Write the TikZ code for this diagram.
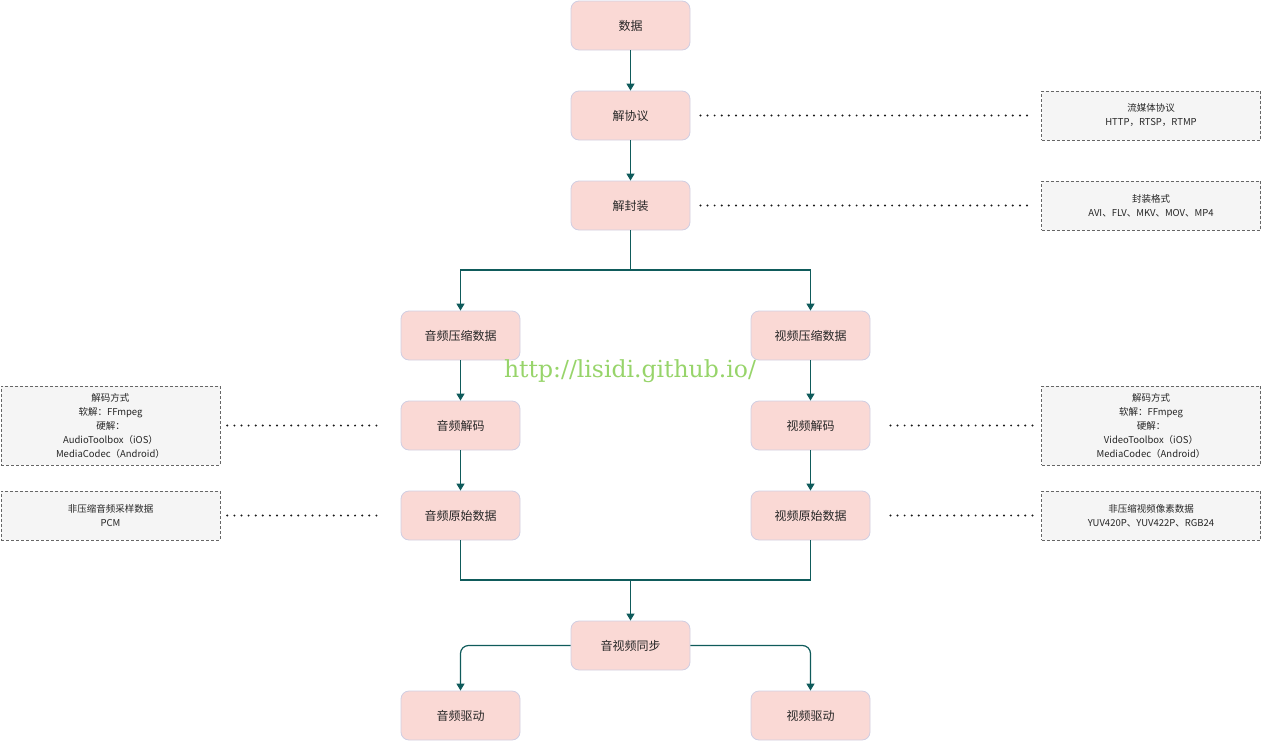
\documentclass[tikz,border=0pt]{standalone}
\usepackage{fontspec}
\setmainfont{Noto Sans CJK SC}
\newfontfamily\markfont{DejaVu Serif}
\usetikzlibrary{arrows.meta}
\definecolor{boxfill}{HTML}{FAD9D5}
\definecolor{boxline}{HTML}{D0CEE2}
\definecolor{notefill}{HTML}{F5F5F5}
\definecolor{noteline}{HTML}{666666}
\definecolor{linkcol}{HTML}{0F5B5B}
\definecolor{markcol}{HTML}{97D46A}

\begin{document}
\begin{tikzpicture}[x=1pt,y=-1pt,
    stage/.style={draw=boxline, fill=boxfill, rounded corners=8pt, line width=0.8pt,
        minimum width=119pt, minimum height=49pt, inner sep=0pt,
        text=black!85, font=\fontsize{12}{14}\selectfont},
    note/.style={draw=noteline, fill=notefill, dash pattern=on 3pt off 2pt, line width=0.6pt,
        minimum width=219pt, minimum height=49pt, inner sep=0pt, align=center,
        text=black!85, font=\fontsize{9.5}{14}\selectfont},
    link/.style={draw=linkcol, line width=1.2pt},
    arrow/.style={link, -{Triangle[width=8pt,length=7pt]}},
    dotline/.style={draw=black!90, line width=2.2pt, line cap=round, dash pattern=on 0pt off 7.1pt}]
        \useasboundingbox (0,0) rectangle (1262,742);
        % main chain
        \node[stage] (data) at (630.5,25.5) {数据};
        \node[stage] (proto) at (630.5,115.5) {解协议};
        \node[stage] (demux) at (630.5,205.5) {解封装};
        \node[stage] (acomp) at (460.5,335.5) {音频压缩数据};
        \node[stage] (vcomp) at (810.5,335.5) {视频压缩数据};
        \node[stage] (adec) at (460.5,425.5) {音频解码};
        \node[stage] (vdec) at (810.5,425.5) {视频解码};
        \node[stage] (araw) at (460.5,515.5) {音频原始数据};
        \node[stage] (vraw) at (810.5,515.5) {视频原始数据};
        \node[stage] (sync) at (630.5,645.5) {音视频同步};
        \node[stage] (adrv) at (460.5,715.5) {音频驱动};
        \node[stage] (vdrv) at (810.5,715.5) {视频驱动};
        % notes
        \node[note] (protonote) at (1151,115.5) {流媒体协议\\HTTP，RTSP，RTMP};
        \node[note] (demuxnote) at (1151,205.5) {封装格式\\AVI、FLV、MKV、MOV、MP4};
        \node[note, minimum height=79pt] (adecnote) at (110.5,425.5)
            {解码方式\\软解：FFmpeg\\硬解：\\AudioToolbox（iOS）\\MediaCodec（Android）};
        \node[note, minimum height=79pt] (vdecnote) at (1151,425.5)
            {解码方式\\软解：FFmpeg\\硬解：\\VideoToolbox（iOS）\\MediaCodec（Android）};
        \node[note] (arawnote) at (110.5,515.5) {非压缩音频采样数据\\PCM};
        \node[note] (vrawnote) at (1151,515.5) {非压缩视频像素数据\\YUV420P、YUV422P、RGB24};
        \node[text=markcol, font=\markfont\fontsize{23.5}{26}\selectfont] (mark) at (630,371) {http://lisidi.github.io/};
        % connectors
        \coordinate (split) at (630.5,270);
        \coordinate (join) at (630.5,580);
        \draw[arrow] (data) -- (proto);
        \draw[arrow] (proto) -- (demux);
        \draw[link] (demux.south) -- (split);
        \draw[arrow] (split) -| (acomp.north);
        \draw[arrow] (split) -| (vcomp.north);
        \draw[arrow] (acomp) -- (adec);
        \draw[arrow] (vcomp) -- (vdec);
        \draw[arrow] (adec) -- (araw);
        \draw[arrow] (vdec) -- (vraw);
        \draw[link] (araw.south) |- (join) -| (vraw.south);
        \draw[arrow] (join) -- (sync.north);
        \draw[arrow, rounded corners=8pt] (sync.west) -| (adrv.north);
        \draw[arrow, rounded corners=8pt] (sync.east) -| (vdrv.north);
        % dotted links to notes
        \draw[dotline] ([xshift=10pt]proto.east) -- ([xshift=-10pt]protonote.west);
        \draw[dotline] ([xshift=10pt]demux.east) -- ([xshift=-10pt]demuxnote.west);
        \draw[dotline] ([xshift=7pt]adecnote.east) -- ([xshift=-19pt]adec.west);
        \draw[dotline] ([xshift=7pt]arawnote.east) -- ([xshift=-19pt]araw.west);
        \draw[dotline] ([xshift=20pt]vdec.east) -- ([xshift=-6pt]vdecnote.west);
        \draw[dotline] ([xshift=20pt]vraw.east) -- ([xshift=-6pt]vrawnote.west);
\end{tikzpicture}
\end{document}
